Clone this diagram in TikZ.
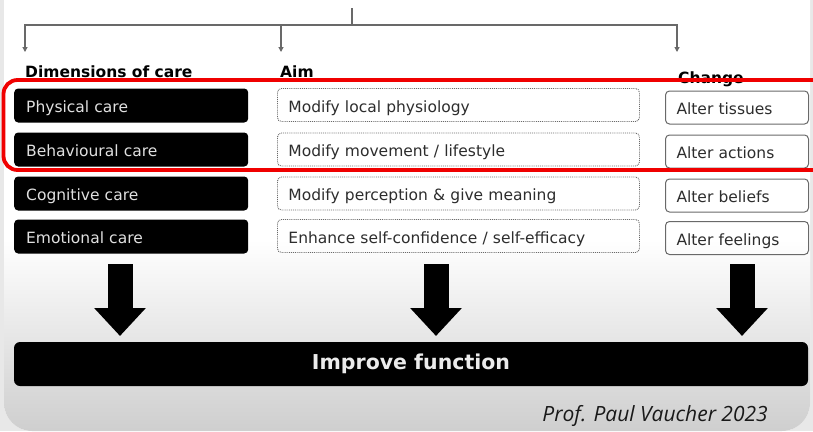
\documentclass[tikz,border=0pt]{standalone}
\usepackage{fontspec}
\setmainfont{DejaVu Sans}
\newfontfamily\creditfont{Open Sans}
\usetikzlibrary{arrows.meta, positioning}
\definecolor{slidegray}{RGB}{232, 232, 232}
\definecolor{boxtext}{RGB}{45, 45, 45}
\definecolor{framegray}{RGB}{105, 105, 105}
\definecolor{markred}{RGB}{240, 0, 0}

\tikzset{
    carebox/.style={fill=black, rounded corners=4pt, anchor=west, text width=210pt, inner xsep=12pt,
        minimum height=34pt, text height=16pt, text depth=1.5pt, align=left, text=white!88!black,
        font=\fontsize{15.5}{17}\selectfont},
    aimbox/.style={draw=framegray, densely dotted, line width=0.9pt, rounded corners=4pt, anchor=west,
        text width=340pt, inner xsep=11pt, minimum height=33pt, text height=16pt, text depth=1.5pt,
        align=left, text=boxtext, font=\fontsize{15.5}{17}\selectfont},
    changebox/.style={draw=framegray, line width=1pt, rounded corners=4pt, anchor=west, text width=121pt,
        inner xsep=11pt, minimum height=33pt, text height=16pt, text depth=1.5pt, align=left,
        text=boxtext, font=\fontsize{15.5}{17}\selectfont},
    header/.style={anchor=base west, inner sep=0pt, font=\bfseries\fontsize{15.5}{17}\selectfont},
    thinarrow/.style={draw=framegray, line width=1.1pt, -{Triangle[width=5pt, length=5pt]}},
    bigarrow/.style={line width=25pt, -{Triangle[width=50pt, length=28pt]}}
}

\begin{document}
\begin{tikzpicture}[x=1pt, y=-1pt]
    \useasboundingbox (0,0) rectangle (813,431);
    \clip (0,0) rectangle (813,431);

    % Slide background
    \fill[slidegray] (0,0) rectangle (813,431);
    \begin{scope}
        \clip[rounded corners=28pt] (4,-40) rectangle (810,431);
        \fill[white] (0,0) rectangle (813,431);
        \shade[top color=white, bottom color=black!19] (0,240) rectangle (813,431);
    \end{scope}

    % Split into the three columns
    \coordinate (top) at (352,8);
    \coordinate (hub) at (352,25);
    \coordinate (toDim) at (25,52);
    \coordinate (toAim) at (281,52);
    \coordinate (toChange) at (677,52);
    \draw[framegray, line width=1.1pt] (top) -- (hub);
    \draw[thinarrow] (hub) -| (toDim);
    \draw[thinarrow] (hub) -| (toAim);
    \draw[thinarrow] (hub) -| (toChange);

    % Column headers
    \node[header] (headDim) at (25,77) {Dimensions of care};
    \node[header] (headAim) at (280,77) {Aim};
    \node[header] (headChange) at (678,83) {Change};

    % Dimensions of care
    \foreach \y/\name/\txt in {105.5/physical/Physical care, 149.5/behavioural/Behavioural care,
                               193.5/cognitive/Cognitive care, 236.5/emotional/Emotional care} {
        \node[carebox] (\name) at (14,\y) {\txt};
    }

    % Aims
    \node[aimbox] (aimPhysical) at (277,105) {Modify local physiology};
    \node[aimbox] (aimBehavioural) at (277,149.5) {Modify movement / lifestyle};
    \node[aimbox] (aimCognitive) at (277,193.5) {Modify perception \& give meaning};
    \node[aimbox] (aimEmotional) at (277,236) {Enhance self-confidence / self-efficacy};

    % Changes
    \foreach \y/\name/\txt in {107.5/altTissues/Alter tissues, 151.5/altActions/Alter actions,
                               195.5/altBeliefs/Alter beliefs, 238/altFeelings/Alter feelings} {
        \node[changebox] (\name) at (665,\y) {\txt};
    }

    % Highlight of the first two rows
    \draw[markred, line width=3.8pt, rounded corners=14pt] (3.5,80) rectangle (850,170);

    % Outcome
    \node[fill=black, rounded corners=6pt, minimum width=794pt, minimum height=44pt, text=white!92!black,
          font=\bfseries\fontsize{20.5}{23}\selectfont] (improve) at (411,364) {Improve function};

    % Big arrows down to the outcome
    \foreach \x [count=\i] in {120,436,742} {
        \coordinate (arrowTop\i) at (\x,264);
        \coordinate (arrowTip\i) at (\x,336);
        \draw[bigarrow] (arrowTop\i) -- (arrowTip\i);
    }

    \node[anchor=base east, inner sep=0pt, text=black!90, font=\creditfont\itshape\fontsize{21}{24}\selectfont]
        (credit) at (768,421) {Prof. Paul Vaucher 2023};
\end{tikzpicture}
\end{document}
